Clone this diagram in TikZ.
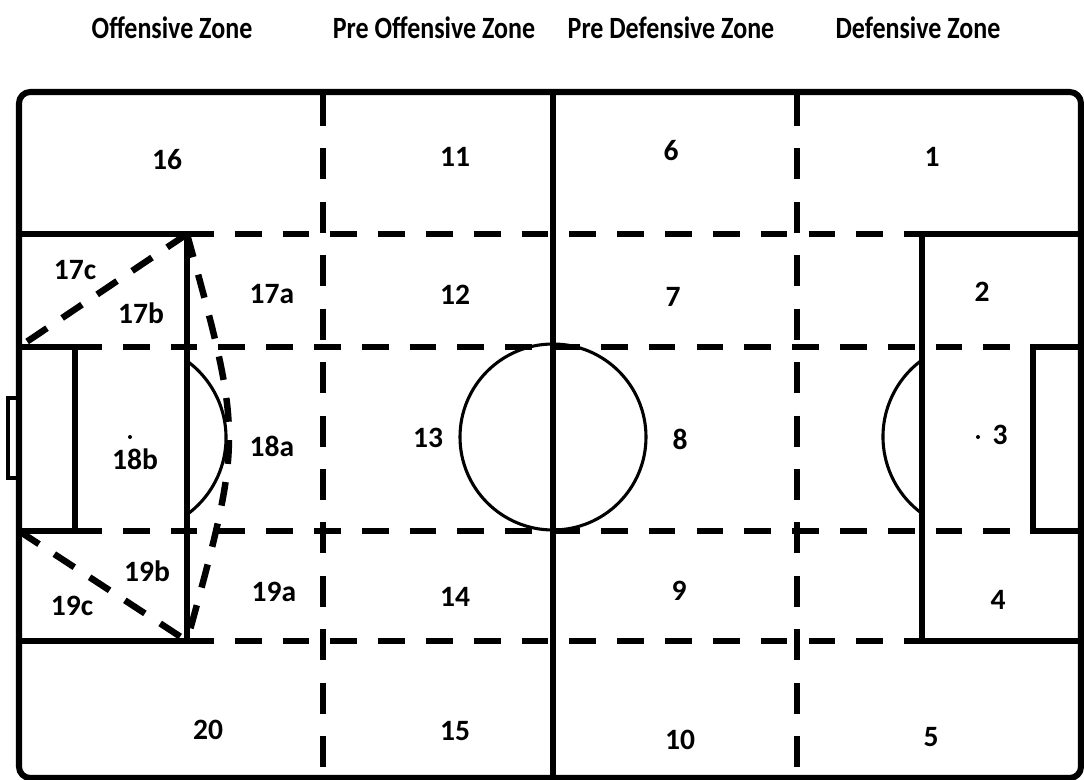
\documentclass[tikz,border=0pt]{standalone}
\usepackage{fontspec}
\setmainfont{Carlito}
\begin{document}
\begin{tikzpicture}[x=0.025cm,y=-0.025cm,
  outer/.style={line width=4.3pt,line join=round},
  solidln/.style={line width=3.6pt},
  thinln/.style={line width=2.2pt},
  dashh/.style={line width=4.6pt,dash pattern=on 19pt off 15pt},
  dashv/.style={line width=4.3pt,dash pattern=on 22pt off 16pt},
  lbl/.style={font=\fontsize{21}{24}\bfseries\selectfont,inner sep=0pt},
  ttl/.style={font=\fontsize{22}{24}\bfseries\selectfont,inner sep=0pt}]
\useasboundingbox (0,0) rectangle (1084,780);
\fill[white] (0,0) rectangle (1084,780);
% titles
\node[ttl] (t1) at (172,28) {\scalebox{0.84}[1]{Offensive Zone}};
\node[ttl] (t2) at (434,28) {\scalebox{0.84}[1]{Pre Offensive Zone}};
\node[ttl] (t3) at (671,28) {\scalebox{0.84}[1]{Pre Defensive Zone}};
\node[ttl] (t4) at (918,28) {\scalebox{0.84}[1]{Defensive Zone}};
% dashed zone lines
\draw[dashv] (323,95) -- (323,778);
\draw[dashv] (797,95) -- (797,778);
\draw[dashh] (187,234) -- (922,234);
\draw[dashh] (187,641) -- (922,641);
\draw[dashh] (75,347) -- (1033,347);
\draw[dashh] (75,531) -- (1033,531);
% outer frame
\draw[outer,rounded corners=8pt] (19,92) rectangle (1081,778);
% halfway line and centre circle
\draw[solidln] (553,92) -- (553,778);
\draw[thinln] (553,437) circle[radius=93];
% left penalty area
\draw[solidln] (19,234) -- (187,234) -- (187,641) -- (19,641);
\draw[solidln] (19,347) -- (75,347) -- (75,531) -- (19,531);
\draw[line width=2.4pt] (19,398) -- (8,398) -- (8,478) -- (19,478);
\draw[thinln] (187,361) arc[start angle=-53.9,end angle=53.9,x radius=95,y radius=95];
\fill (130,437) circle[radius=2];
% left dashed triangles
\draw[dashh,dash pattern=on 17pt off 13pt] (187,234) .. controls (243,437) .. (187,641);
\draw[dashh,dash pattern=on 17pt off 13pt] (187,234) -- (19,347);
\draw[dashh,dash pattern=on 17pt off 13pt] (19,531) -- (187,641);
% right penalty area
\draw[solidln] (1081,234) -- (922,234) -- (922,641) -- (1081,641);
\draw[solidln] (1081,347) -- (1033,347) -- (1033,531) -- (1081,531);
\draw[thinln] (922,360) arc[start angle=233.9,end angle=126.1,x radius=95,y radius=95];
\fill (978,437) circle[radius=2];
% zone labels
\node[lbl] (z16) at (167,160) {16};
\node[lbl] (z11) at (455,157) {11};
\node[lbl] (z6) at (671,151) {6};
\node[lbl] (z1) at (932,157) {1};
\node[lbl] (z17c) at (75,270) {17c};
\node[lbl] (z17b) at (141,313) {17b};
\node[lbl] (z17a) at (272,294) {17a};
\node[lbl] (z12) at (455,295) {12};
\node[lbl] (z7) at (673,297) {7};
\node[lbl] (z2) at (982,292) {2};
\node[lbl] (z18b) at (135,459) {18b};
\node[lbl] (z18a) at (272,446) {18a};
\node[lbl] (z13) at (428,438) {13};
\node[lbl] (z8) at (680,439) {8};
\node[lbl] (z3) at (1000,435) {3};
\node[lbl] (z19b) at (147,571) {19b};
\node[lbl] (z19c) at (72,606) {19c};
\node[lbl] (z19a) at (274,592) {19a};
\node[lbl] (z14) at (455,597) {14};
\node[lbl] (z9) at (679,591) {9};
\node[lbl] (z4) at (998,600) {4};
\node[lbl] (z20) at (208,730) {20};
\node[lbl] (z15) at (455,731) {15};
\node[lbl] (z10) at (680,740) {10};
\node[lbl] (z5) at (931,737) {5};
\end{tikzpicture}
\end{document}
